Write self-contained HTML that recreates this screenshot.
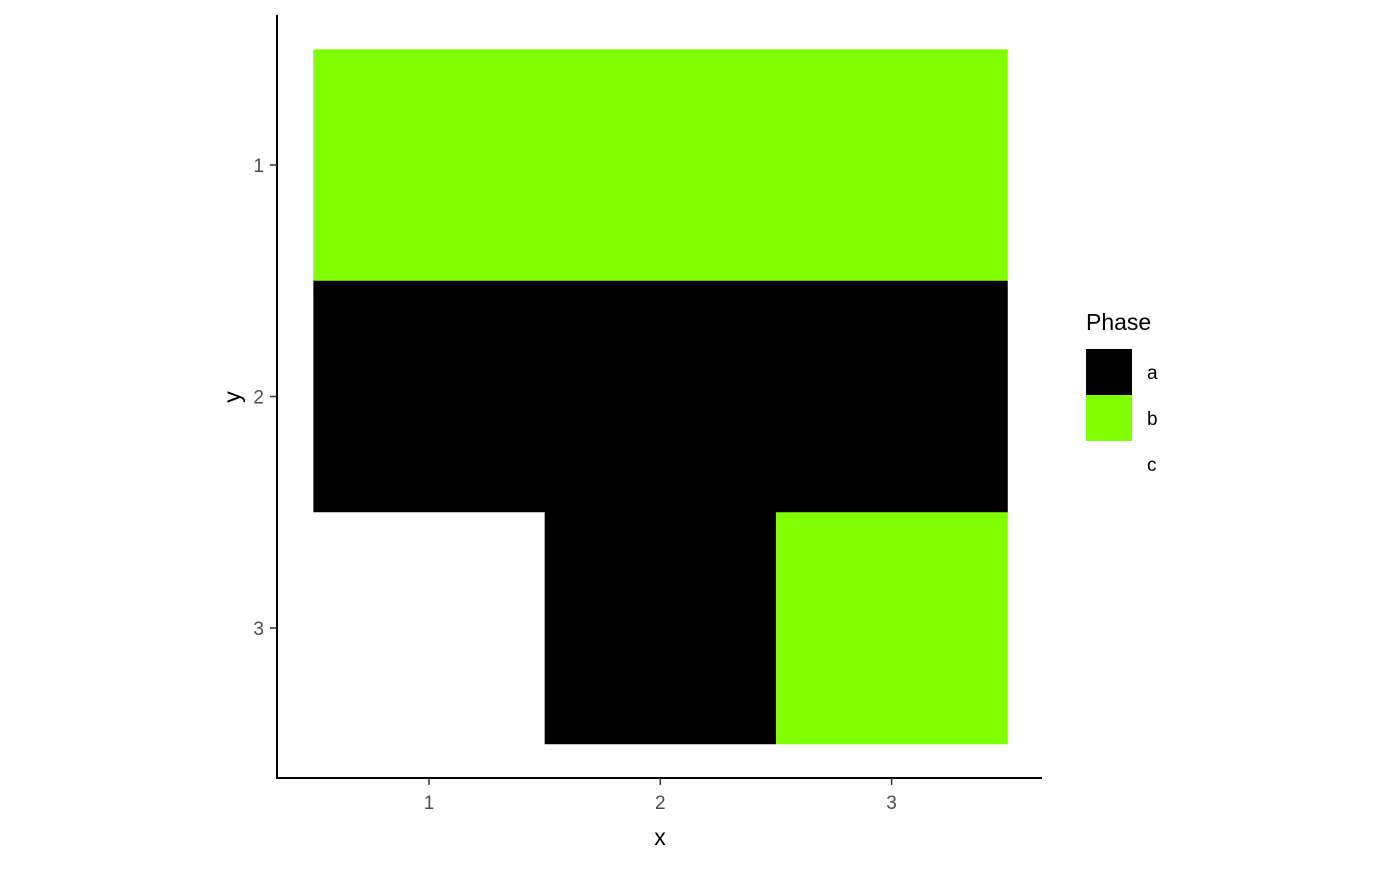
<!DOCTYPE html>
<html><head><meta charset="utf-8"><style>
body{margin:0;background:#fff;}
svg text{font-family:"Liberation Sans",sans-serif;}
</style></head><body>
<svg width="1400" height="866" xmlns="http://www.w3.org/2000/svg">
<g id="tiles"></g>
<g id="axes"></g>
<g id="legend"></g>
</svg>
<script>
const xCats = [1, 2, 3];
const yCats = [1, 2, 3];
const tileX = [1, 2, 3, 1, 2, 3, 1, 2, 3];
const tileY = [1, 1, 1, 2, 2, 2, 3, 3, 3];
const tilePhase = ['b', 'b', 'b', 'a', 'a', 'a', 'c', 'a', 'b'];
const phases = ['a', 'b', 'c'];
const phaseColors = ['#000000', '#80ff00', '#ffffff'];

const NS = 'http://www.w3.org/2000/svg';
const step = 231.3;
const xs = v => 429 + (v - 1) * step;
const ys = v => 165 + (v - 1) * 231.5;
function mk(tag, attrs, parent, text) {
  const e = document.createElementNS(NS, tag);
  for (const k in attrs) e.setAttribute(k, attrs[k]);
  if (text !== undefined) e.textContent = text;
  parent.appendChild(e);
  return e;
}
const tiles = document.getElementById('tiles');
tileX.forEach((xv, i) => {
  const c = phaseColors[phases.indexOf(tilePhase[i])];
  const r = mk('rect', {x: xs(xv) - step / 2, y: ys(tileY[i]) - 231.5 / 2, width: step + 0.5, height: 232, fill: c}, tiles);
  
  
});
const ax = document.getElementById('axes');
let l = mk('line', {x1: 277, y1: 15, x2: 277, y2: 779, stroke: '#000', 'stroke-width': 2}, ax);


l = mk('line', {x1: 276, y1: 778, x2: 1042, y2: 778, stroke: '#000', 'stroke-width': 2}, ax);


xCats.forEach(v => {
  mk('line', {x1: xs(v), y1: 778, x2: xs(v), y2: 785, stroke: '#333', 'stroke-width': 1.5}, ax);
  const t = mk('text', {x: xs(v), y: 809, 'text-anchor': 'middle', 'font-size': 19, fill: '#4d4d4d'}, ax, v);
  
  
});
yCats.forEach(v => {
  mk('line', {x1: 270, y1: ys(v), x2: 277, y2: ys(v), stroke: '#333', 'stroke-width': 1.5}, ax);
  const t = mk('text', {x: 264, y: ys(v) + 7, 'text-anchor': 'end', 'font-size': 19, fill: '#4d4d4d'}, ax, v);
  
  
});
let t = mk('text', {x: 660, y: 845, 'text-anchor': 'middle', 'font-size': 23}, ax, 'x');


t = mk('text', {x: 240, y: 397, 'text-anchor': 'middle', 'font-size': 23, transform: 'rotate(-90 240 397)'}, ax, 'y');


const lg = document.getElementById('legend');
t = mk('text', {x: 1086, y: 330, 'font-size': 23}, lg, 'Phase');


phases.forEach((p, i) => {
  const r = mk('rect', {x: 1086, y: 349 + i * 46, width: 46, height: 46, fill: phaseColors[i]}, lg);
  
  
  const tx = mk('text', {x: 1147, y: 379 + i * 46, 'font-size': 19}, lg, p);
  
  
});
</script>
</body></html>
